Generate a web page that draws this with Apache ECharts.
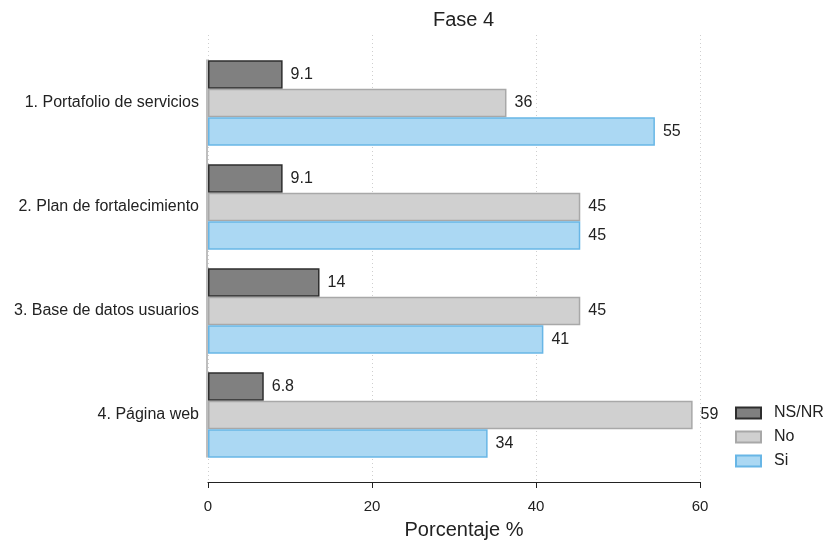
<!DOCTYPE html>
<html>
<head>
<meta charset="utf-8">
<script src="https://cdn.jsdelivr.net/npm/echarts@6/dist/echarts.min.js"></script>
<style>html,body{margin:0;padding:0;background:#fff}#c{width:824px;height:545px}</style>
</head>
<body>
<div id="c"></div>
<script>
const categories = ['1. Portafolio de servicios', '2. Plan de fortalecimiento', '3. Base de datos usuarios', '4. Página web'];
const nsnr = [9.1, 9.1, 13.6, 6.8];
const no = [36.4, 45.4, 45.4, 59.1];
const si = [54.5, 45.4, 40.9, 34.1];
const xTicks = [0, 20, 40, 60];

const FONT = 'Liberation Sans, Arial, sans-serif';
const fmt = v => String(Number(Number(v).toPrecision(2)));

function mk(name, data, fill, border) {
  return {
    name: name, type: 'bar', xAxisIndex: 0, yAxisIndex: 0, data: data,
    barGap: '0%', barCategoryGap: '18%',
    itemStyle: { color: fill, borderColor: border, borderWidth: 1.5 },
    label: { show: true, position: 'right', distance: 8, fontSize: 16, color: '#222', fontFamily: FONT,
      formatter: p => fmt(p.value) }
  };
}

const chart = echarts.init(document.getElementById('c'), null, { renderer: 'canvas' });
chart.setOption({
  animation: false,
  backgroundColor: '#fff',
  title: { text: 'Fase 4', left: 428, top: 5, textStyle: { fontSize: 20, fontWeight: 'normal', color: '#222', fontFamily: FONT } },
  legend: {
    orient: 'vertical', left: 730, top: 400, itemWidth: 25, itemHeight: 11, itemGap: 8, icon: 'rect',
    data: ['NS/NR', 'No', 'Si'],
    textStyle: { fontSize: 16, color: '#222', fontFamily: FONT, padding: [0, 0, 0, 8] }
  },
  grid: [
    { left: 208, right: 124, top: 51, bottom: 78 },
    { left: 208, right: 124, top: 35, bottom: 60 },
    { left: 207, right: 124, top: 60, bottom: 88 }
  ],
  xAxis: [
    { gridIndex: 0, type: 'value', min: 0, max: 60, show: false },
    { gridIndex: 1, type: 'value', min: 0, max: 60, interval: 20,
      axisLine: { show: true, lineStyle: { color: '#222', width: 1.2 } },
      axisTick: { show: true, length: 6, lineStyle: { color: '#222' } },
      axisLabel: { fontSize: 15, color: '#222', fontFamily: FONT, margin: 17,
        formatter: v => xTicks.includes(v) ? String(v) : '' },
      splitLine: { show: true, lineStyle: { color: '#cfcfcf', type: [1, 3], width: 1 } },
      name: 'Porcentaje %', nameLocation: 'middle', nameGap: 38,
      nameTextStyle: { fontSize: 20, color: '#222', fontFamily: FONT, padding: [0, 0, 0, 20] } },
    { gridIndex: 2, type: 'value', min: 0, max: 60, show: false }
  ],
  yAxis: [
    { gridIndex: 0, type: 'category', data: categories, inverse: true,
      axisLine: { show: false },
      axisTick: { show: false },
      axisLabel: { fontSize: 16, color: '#222', fontFamily: FONT, margin: 9 } },
    { gridIndex: 1, type: 'value', show: false },
    { gridIndex: 2, type: 'value', min: 0, max: 1,
      axisLine: { show: true, lineStyle: { color: '#a8a8a8', width: 1.5 } },
      axisTick: { show: false }, axisLabel: { show: false }, splitLine: { show: false } }
  ],
  series: [
    mk('NS/NR', nsnr, '#808080', '#2e2e2e'),
    mk('No', no, '#d0d0d0', '#a8a8a8'),
    mk('Si', si, '#abd8f3', '#68b6e6')
  ]
});
</script>
</body>
</html>
